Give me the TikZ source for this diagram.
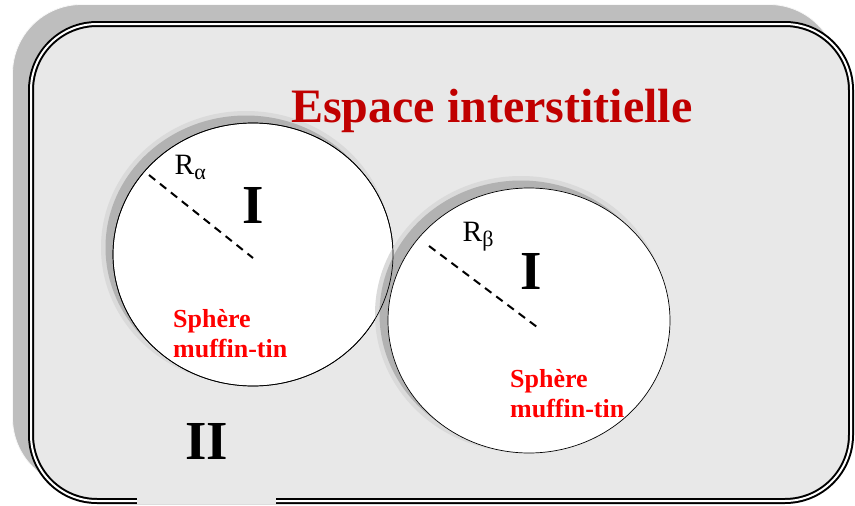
\documentclass[tikz,border=0pt]{standalone}
\usepackage{fontspec}
\setmainfont{Liberation Serif}
\definecolor{framegray}{HTML}{BEBEBE}
\definecolor{panelgray}{HTML}{E8E8E8}
\definecolor{shadowgray}{HTML}{B2B2B2}
\definecolor{halogray}{HTML}{DADADA}
\definecolor{titlered}{HTML}{C00000}
\definecolor{labelred}{HTML}{FF0000}
\tikzset{
  radiusline/.style={line width=2pt, dash pattern=on 8pt off 6pt},
  titletext/.style={font=\fontsize{48}{50}\selectfont\bfseries, text=titlered, inner sep=0pt},
  regiontext/.style={font=\fontsize{55}{60}\selectfont\bfseries, inner sep=0pt},
  mttext/.style={font=\fontsize{26}{30}\selectfont\bfseries, text=labelred, inner sep=0pt},
  rtext/.style={inner sep=0pt},
  sphere/.style={fill=white, draw=black, line width=0.7pt},
}
\newcommand{\rlabel}[1]{{\fontsize{29.5}{32}\selectfont R}{\fontsize{22}{22}\selectfont\raisebox{-5pt}{#1}}}
\begin{document}
\begin{tikzpicture}[x=1pt,y=-1pt]
\useasboundingbox (0,0) rectangle (855,506);
% frame shadow
\draw[fill=framegray, draw=white!90!framegray, line width=0.8pt, rounded corners=69pt] (12.5,4.5) rectangle (838,487);
% panel
\fill[panelgray, rounded corners=69pt] (28,21) rectangle (854,504);
% left sphere
\fill[halogray] (246,247.5) ellipse [x radius=145, y radius=136.5];
\fill[shadowgray] (246,247.5) ellipse [x radius=140.5, y radius=132];
\path[sphere] (253,254.5) ellipse [x radius=140, y radius=131.5];
% right sphere
\fill[halogray] (521,314) ellipse [x radius=146, y radius=138];
\fill[shadowgray] (521,314) ellipse [x radius=141.5, y radius=133.5];
\path[sphere] (529,320.5) ellipse [x radius=141, y radius=132.5];
% left sphere outline again
\draw[line width=0.7pt] (253,254.5) ellipse [x radius=140, y radius=131.5];
% frame double line
\draw[line width=2pt, double=white, double distance=2pt, rounded corners=66pt] (31,24) rectangle (851,501);
\fill[panelgray] (137,493) rectangle (276,504);
% radii
\coordinate (ra1) at (149,175);
\coordinate (ra2) at (253,258);
\coordinate (rb1) at (429,246);
\coordinate (rb2) at (537,327);
\draw[radiusline] (ra1) -- (ra2);
\draw[radiusline] (rb1) -- (rb2);
% texts
\node[titletext, anchor=base west] (title) at (291,122) {Espace interstitielle};
\node[rtext, anchor=base west] (ralpha) at (174.5,174) {\rlabel{α}};
\node[rtext, anchor=base west] (rbeta) at (462.5,241) {\rlabel{β}};
\node[regiontext, anchor=base] (regIa) at (253,223) {I};
\node[regiontext, anchor=base] (regIb) at (531,289) {I};
\node[regiontext, anchor=base] (regII) at (207,459) {II};
\node[mttext, anchor=base west] (mtaone) at (173,327) {Sphère};
\node[mttext, anchor=base west] (mtatwo) at (173,357) {muffin-tin};
\node[mttext, anchor=base west] (mtbone) at (510,387) {Sphère};
\node[mttext, anchor=base west] (mtbtwo) at (510,417) {muffin-tin};
\end{tikzpicture}
\end{document}
